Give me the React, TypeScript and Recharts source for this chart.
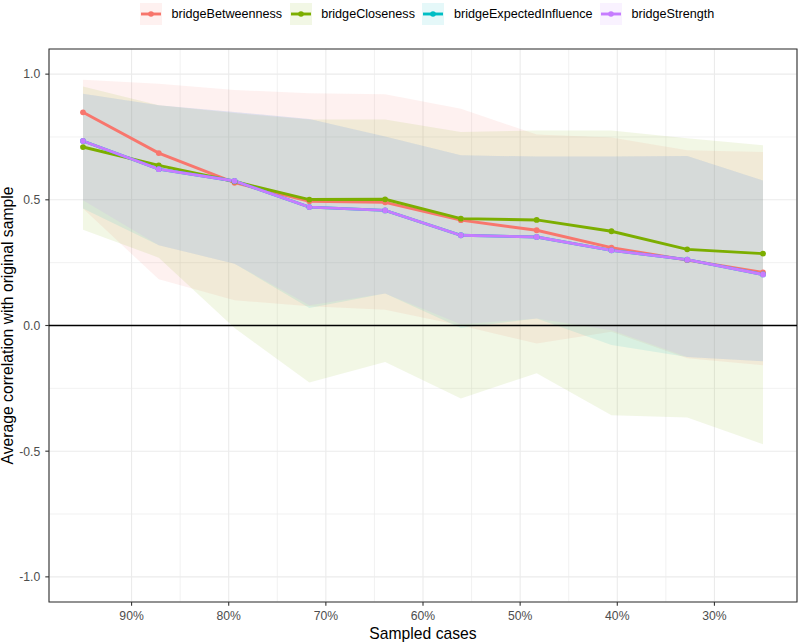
import React from 'react';
import {
  ComposedChart,
  Area,
  Line,
  XAxis,
  YAxis,
  CartesianGrid,
  ReferenceLine,
  ReferenceArea,
  Legend,
} from 'recharts';

// Percentage of cases retained in each case-dropping subset
const sampledPct = [95, 87.2, 79.4, 71.7, 63.9, 56.1, 48.3, 40.6, 32.8, 25];

// Mean correlation with the original-sample centrality, per statistic
const betweennessMean = [0.848, 0.686, 0.568, 0.494, 0.49, 0.419, 0.379, 0.31, 0.26, 0.211];
const closenessMean = [0.71, 0.637, 0.573, 0.501, 0.502, 0.425, 0.42, 0.375, 0.303, 0.286];
const expectedInfluenceMean = [0.734, 0.622, 0.575, 0.471, 0.458, 0.359, 0.352, 0.299, 0.262, 0.203];
const strengthMean = [0.734, 0.622, 0.575, 0.471, 0.458, 0.359, 0.352, 0.299, 0.262, 0.203];

// Quantile bands (lower / upper)
const betweennessLower = [0.465, 0.184, 0.1, 0.077, 0.063, 0.0, -0.072, -0.025, -0.13, -0.158];
const betweennessUpper = [0.978, 0.962, 0.937, 0.924, 0.92, 0.862, 0.76, 0.748, 0.697, 0.69];
const closenessLower = [0.381, 0.27, -0.01, -0.227, -0.145, -0.29, -0.19, -0.357, -0.366, -0.472];
const closenessUpper = [0.951, 0.876, 0.845, 0.82, 0.82, 0.77, 0.776, 0.776, 0.745, 0.717];
const expectedInfluenceLower = [0.465, 0.319, 0.246, 0.07, 0.127, -0.01, 0.028, -0.078, -0.125, -0.142];
const expectedInfluenceUpper = [0.922, 0.876, 0.849, 0.822, 0.752, 0.677, 0.672, 0.672, 0.674, 0.577];
const strengthLower = [0.498, 0.319, 0.246, 0.081, 0.127, 0.005, 0.028, -0.019, -0.125, -0.142];
const strengthUpper = [0.922, 0.876, 0.849, 0.822, 0.752, 0.677, 0.672, 0.672, 0.674, 0.577];

const seriesNames = ['bridgeBetweenness', 'bridgeCloseness', 'bridgeExpectedInfluence', 'bridgeStrength'];
const seriesColors = ['#F8766D', '#7CAE00', '#00BFC4', '#C77CFF'];
const seriesMeans = [betweennessMean, closenessMean, expectedInfluenceMean, strengthMean];
const seriesLower = [betweennessLower, closenessLower, expectedInfluenceLower, strengthLower];
const seriesUpper = [betweennessUpper, closenessUpper, expectedInfluenceUpper, strengthUpper];

const xMajorTicks = [90, 80, 70, 60, 50, 40, 30];
const xMinorTicks = [85, 75, 65, 55, 45, 35];
const yMajorTicks = [-1, -0.5, 0, 0.5, 1];
const yMinorTicks = [-0.75, -0.25, 0.25, 0.75];

const X_DOMAIN: [number, number] = [21.5, 98.5];
const Y_DOMAIN: [number, number] = [-1.1, 1.1];

const rows = sampledPct.map((x, i) => {
  const row: Record<string, any> = { x };
  seriesNames.forEach((_, s) => {
    row[`m${s}`] = seriesMeans[s][i];
    row[`band${s}`] = [seriesLower[s][i], seriesUpper[s][i]];
  });
  return row;
});

const FONT = '"Liberation Sans", Arial, Helvetica, sans-serif';

function YTitle(props: any) {
  const vb = props.viewBox || {};
  const cy = (vb.y ?? 0) + (vb.height ?? 0) / 2;
  const x = 13;
  return (
    <text
      x={x}
      y={cy}
      transform={`rotate(-90, ${x}, ${cy})`}
      textAnchor="middle"
      fontSize={15.7}
      fill="#000"
      fontFamily={FONT}
    >
      Average correlation with original sample
    </text>
  );
}

function XTitle(props: any) {
  const vb = props.viewBox || {};
  const cx = (vb.x ?? 0) + (vb.width ?? 0) / 2;
  return (
    <text x={cx} y={(vb.y ?? 0) + 36.5} textAnchor="middle" fontSize={15.7} fill="#000" fontFamily={FONT}>
      Sampled cases
    </text>
  );
}

function LegendBar() {
  return (
    <div style={{ display: 'flex', alignItems: 'center', fontFamily: FONT }}>
      {seriesNames.map((name, i) => (
        <div key={name} style={{ display: 'flex', alignItems: 'center', marginRight: 7.5 }}>
          <svg width={22} height={22} style={{ display: 'block' }}>
            <line x1={1} y1={11} x2={21} y2={11} stroke={seriesColors[i]} strokeWidth={2.9} />
            <circle cx={11} cy={11} r={2.8} fill={seriesColors[i]} />
            <rect x={0} y={0} width={22} height={22} fill={seriesColors[i]} fillOpacity={0.1} />
          </svg>
          <span style={{ marginLeft: 9.5, fontSize: 12.6, color: '#000', lineHeight: '22px' }}>{name}</span>
        </div>
      ))}
    </div>
  );
}

export default function App() {
  return (
    <div style={{ position: 'absolute', left: 0, top: 0, fontFamily: FONT, background: '#fff' }}>
      <ComposedChart
        width={798}
        height={643}
        data={rows}
        margin={{ top: 49, right: 1, bottom: 0, left: 0 }}
      >
        <XAxis
          dataKey="x"
          type="number"
          domain={X_DOMAIN}
          reversed
          allowDataOverflow
          ticks={xMajorTicks}
          interval={0}
          tickFormatter={(v: number) => `${v}%`}
          height={41}
          tickSize={3.7}
          tickMargin={6}
          axisLine={false}
          tickLine={{ stroke: '#333333', strokeWidth: 1.1 }}
          tick={{ fill: '#4D4D4D', fontSize: 12.2 }}
          label={<XTitle />}
        />
        <XAxis
          xAxisId="minor"
          dataKey="x"
          type="number"
          domain={X_DOMAIN}
          reversed
          allowDataOverflow
          ticks={xMinorTicks}
          interval={0}
          hide
        />
        <YAxis
          type="number"
          domain={Y_DOMAIN}
          allowDataOverflow
          ticks={yMajorTicks}
          interval={0}
          tickFormatter={(v: number) => v.toFixed(1)}
          width={49}
          tickSize={3.7}
          tickMargin={5}
          axisLine={false}
          tickLine={{ stroke: '#333333', strokeWidth: 1.1 }}
          tick={{ fill: '#4D4D4D', fontSize: 12.2 }}
          label={<YTitle />}
        />
        <YAxis
          yAxisId="minor"
          type="number"
          domain={Y_DOMAIN}
          allowDataOverflow
          ticks={yMinorTicks}
          interval={0}
          hide
        />
        <CartesianGrid
          xAxisId="minor"
          yAxisId="minor"
          stroke="#EDEDED"
          strokeWidth={0.8}
        />
        <CartesianGrid stroke="#EBEBEB" strokeWidth={1.1} />

        {seriesNames.map((name, i) => (
          <Area
            key={`band-${name}`}
            dataKey={`band${i}`}
            type="linear"
            fill={seriesColors[i]}
            fillOpacity={0.1}
            stroke="none"
            dot={false}
            activeDot={false}
            legendType="none"
            isAnimationActive={false}
          />
        ))}

        <ReferenceLine y={0} stroke="#000" strokeWidth={1.3} />

        {seriesNames.map((name, i) => (
          <Line
            key={`line-${name}`}
            dataKey={`m${i}`}
            type="linear"
            stroke={seriesColors[i]}
            strokeWidth={2.9}
            dot={false}
            activeDot={false}
            legendType="none"
            isAnimationActive={false}
          />
        ))}
        {seriesNames.map((name, i) => (
          <Line
            key={`pts-${name}`}
            dataKey={`m${i}`}
            type="linear"
            stroke="none"
            strokeWidth={0}
            dot={{ r: 2.9, fill: seriesColors[i], stroke: seriesColors[i], strokeWidth: 0 }}
            activeDot={false}
            legendType="none"
            isAnimationActive={false}
          />
        ))}

        <ReferenceArea
          x1={X_DOMAIN[1]}
          x2={X_DOMAIN[0]}
          y1={Y_DOMAIN[0]}
          y2={Y_DOMAIN[1]}
          fill="none"
          stroke="#333333"
          strokeWidth={1.1}
          ifOverflow="visible"
        />

        <Legend
          verticalAlign="middle"
          layout="horizontal"
          wrapperStyle={{ top: 3, left: 140, width: 'auto' }}
          content={() => <LegendBar />}
        />
      </ComposedChart>
    </div>
  );
}
